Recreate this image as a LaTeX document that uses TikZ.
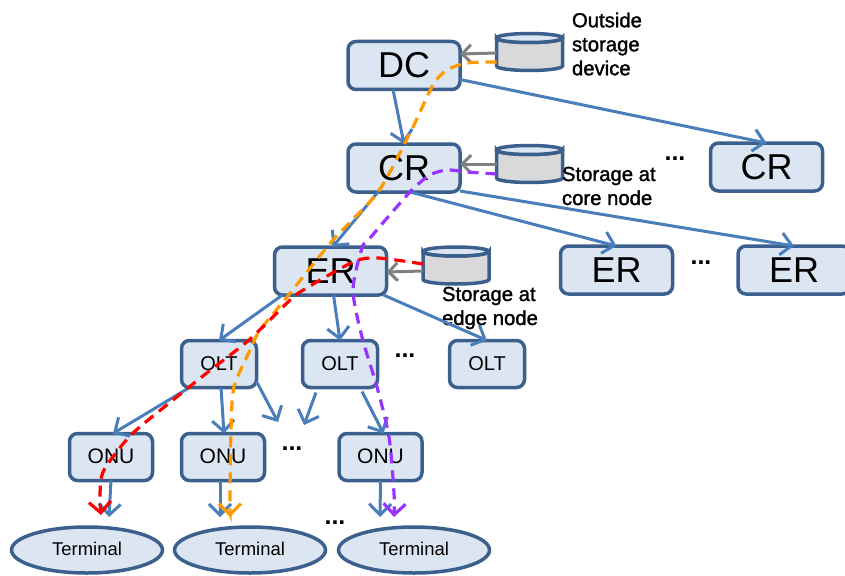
\documentclass[tikz,border=0pt]{standalone}
\usepackage{fontspec}
\setmainfont{Liberation Sans}
\newfontfamily\labfont[FakeBold=1.5]{Liberation Sans}
\usetikzlibrary{arrows.meta,shapes.geometric}
\definecolor{boxfill}{RGB}{220,230,242}
\definecolor{boxline}{RGB}{60,96,142}
\definecolor{linkblue}{RGB}{74,126,187}
\definecolor{cylfill}{RGB}{217,217,217}
\definecolor{flowred}{RGB}{255,0,0}
\definecolor{floworange}{RGB}{255,153,0}
\definecolor{flowpurple}{RGB}{153,51,255}
\tikzset{
  every node/.style={inner sep=0pt,outer sep=0pt},
  bigbox/.style={draw=boxline,fill=boxfill,line width=3.5pt,rounded corners=8pt,minimum width=112pt,minimum height=48pt,font=\fontsize{36}{36}\selectfont},
  olt/.style={draw=boxline,fill=boxfill,line width=3.5pt,rounded corners=8pt,minimum width=75pt,minimum height=47pt,font=\fontsize{20}{20}\selectfont},
  onu/.style={draw=boxline,fill=boxfill,line width=3.5pt,rounded corners=8pt,minimum width=83pt,minimum height=47pt,font=\fontsize{21}{21}\selectfont},
  term/.style={ellipse,draw=boxline,fill=boxfill,line width=3.5pt,minimum width=151pt,minimum height=46pt,font=\fontsize{18.5}{18.5}\selectfont},
  store/.style={minimum width=66pt,minimum height=37pt},
  cylbody/.style={draw=boxline,fill=cylfill,line width=3.5pt},
  cyltop/.style={draw=boxline,fill=boxfill,line width=3.5pt},
  link/.style={draw=linkblue,line width=3pt,-{Straight Barb[length=11pt,width=22pt,line width=3pt]}},
  greyarrow/.style={draw=gray,line width=3pt,-{Straight Barb[length=9pt,width=18pt,line width=3pt]}},
  flow/.style={line width=3.2pt,dash pattern=on 11pt off 7pt,-{Straight Barb[length=11pt,width=22pt,line width=3.2pt]}},
  lab/.style={font=\labfont\fontsize{20.3}{24}\selectfont,align=left,anchor=west},
  dots/.style={font=\bfseries\fontsize{25}{25}\selectfont},
}
\newcommand{\drawstore}[1]{%
  \path[cylbody] ([yshift=-4.5pt]#1.north west) -- ([yshift=4.5pt]#1.south west)
    arc[start angle=180,end angle=360,x radius=33pt,y radius=4.5pt]
    -- ([yshift=-4.5pt]#1.north east)
    arc[start angle=360,end angle=180,x radius=33pt,y radius=4.5pt] -- cycle;
  \path[cyltop] ([yshift=-4.5pt]#1.north) ellipse[x radius=33pt,y radius=4.5pt];
}
\begin{document}
\begin{tikzpicture}[x=1pt,y=-1pt]
\useasboundingbox (0,0) rectangle (845,575);
\clip (0,0) rectangle (845,575);
\node[bigbox] (dc) at (404,65.5) {DC};
\node[bigbox] (cr1) at (404,168) {CR};
\node[bigbox] (cr2) at (766.5,167) {CR};
\node[bigbox] (er1) at (330.5,271) {ER};
\node[bigbox] (er2) at (616.5,270) {ER};
\node[bigbox] (er3) at (794,270) {ER};
\node[olt] (olt1) at (219,364) {\raisebox{1pt}{OLT}};
\node[olt] (olt2) at (340,364) {\raisebox{1pt}{OLT}};
\node[olt] (olt3) at (487,364) {\raisebox{1pt}{OLT}};
\node[onu] (onu1) at (111,457) {\raisebox{1pt}{ONU}};
\node[onu] (onu2) at (223,457) {\raisebox{1pt}{ONU}};
\node[onu] (onu3) at (380.5,457) {\raisebox{1pt}{ONU}};
\node[term] (t1) at (87,550) {\raisebox{3pt}{Terminal}};
\node[term] (t2) at (250,550) {\raisebox{3pt}{Terminal}};
\node[term] (t3) at (414,550) {\raisebox{3pt}{Terminal}};
\node[store] (s1) at (529.5,52) {};
\node[store] (s2) at (529.5,164) {};
\node[store] (s3) at (456,265.5) {};
\drawstore{s1}
\drawstore{s2}
\drawstore{s3}
\node[lab] (l1) at (572,44) {Outside\\storage\\device};
\node[lab] (l2) at (562,186) {Storage at\\core node};
\node[lab] (l3) at (442,308) {Storage at\\edge node};
\node[dots] (d1) at (675,159) {...};
\node[dots] (d2) at (701,263) {...};
\node[dots] (d3) at (405,356) {...};
\node[dots] (d4) at (292,449) {...};
\node[dots] (d5) at (335,523) {...};
\coordinate (f1) at (278,422);
\coordinate (f2) at (304,425);
\draw[link] ([xshift=-11pt]dc.south) -- (cr1.north);
\draw[link] ([yshift=-14pt]dc.east) -- (cr2.north);
\draw[link] ([xshift=-26pt]cr1.south) -- ([xshift=2pt]er1.north);
\draw[link] ([xshift=6pt]cr1.south) -- (er2.north);
\draw[link] ([yshift=1pt]cr1.south east) -- (er3.north);
\draw[link] ([xshift=8pt]er1.south west) -- (olt1.north);
\draw[link] ([xshift=3pt]er1.south) -- (olt2.north);
\draw[link] ([xshift=-3pt]er1.south east) -- (olt3.north);
\draw[link] ([xshift=8pt]olt1.south west) -- ([xshift=2pt]onu1.north);
\draw[link] ([xshift=2pt]olt1.south) -- ([xshift=1pt]onu2.north);
\draw[link] ([yshift=6pt]olt1.south east) -- (f1);
\draw[link] ([xshift=-24pt,yshift=-5pt]olt2.south) -- (f2);
\draw[link] ([xshift=22pt,yshift=-4pt]olt2.south) -- ([xshift=3pt]onu3.north);
\draw[link] (onu1.south) -- ([xshift=22pt,yshift=10pt]t1.north);
\draw[link] ([xshift=-3pt]onu2.south) -- ([xshift=-30pt,yshift=10pt]t2.north);
\draw[link] (onu3.south) -- ([xshift=-34pt,yshift=10pt]t3.north);
\draw[greyarrow] ([yshift=-1pt]s1.west) -- ([yshift=-2pt]dc.east |- s1.west);
\draw[greyarrow] (s2.west) -- (cr1.east |- s2.west);
\draw[greyarrow] ([yshift=-5.5pt]s3.west) -- ([yshift=-6.5pt]er1.east |- s3.west);
\draw[flow,draw=floworange] plot[smooth,tension=0.45] coordinates {
  ([yshift=-10pt]s1.west) (467,63) (447,70) (433,85) (410,133) (378,192) (333,240) (287,297)
  (260,330) (251,348) (234,387) (231,430) (230,493) ([xshift=-20pt,yshift=10pt]t2.north)};
\draw[flow,draw=flowpurple] plot[smooth,tension=0.45] coordinates {
  ([yshift=-10pt]s2.west) (467,172) (447,170) (430,175) (410,192) (370,238) (362,248) (353,290)
  (362,337) (377,387) (389,437) (394,493) ([xshift=-20pt,yshift=10pt]t3.north)};
\draw[flow,draw=flowred] plot[smooth,tension=0.45] coordinates {
  ([yshift=1.5pt]s3.west) (378,258) (353,262) (300,292) (287,303)
  (249,340) (208,372) (173,400) (131,435) (104,470) (100,493) ([xshift=14pt,yshift=12pt]t1.north)};
\end{tikzpicture}
\end{document}
